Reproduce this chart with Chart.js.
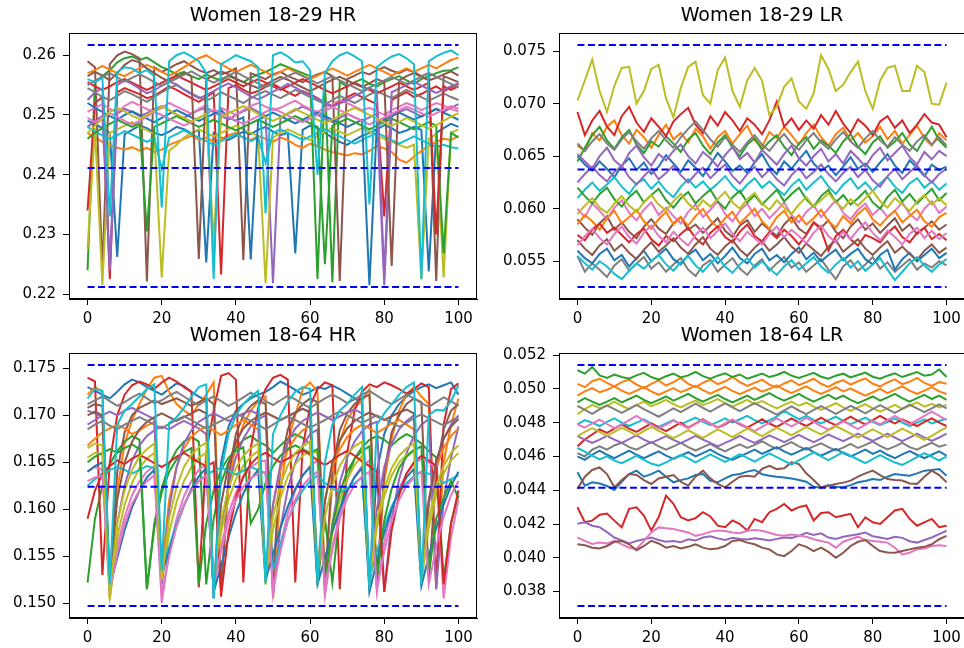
<!DOCTYPE html>
<html>
<head>
<meta charset="utf-8">
<script src="https://cdn.jsdelivr.net/npm/chart.js@4.4.0/dist/chart.umd.min.js"></script>
<style>
  body { margin: 0; background: #fff; width: 964px; height: 648px; overflow: hidden; position: relative; }
  canvas { position: absolute; }
</style>
</head>
<body>
<canvas id="hrYoungChart" width="490" height="324" style="left:0;top:0"></canvas>
<canvas id="lrYoungChart" width="480" height="324" style="left:490px;top:0"></canvas>
<canvas id="hrAllChart" width="490" height="324" style="left:0;top:324px"></canvas>
<canvas id="lrAllChart" width="480" height="324" style="left:490px;top:324px"></canvas>
<script>
// x positions of the samples
const days = [0,2,4,6,8,10,12,14,16,18,20,22,24,26,28,30,32,34,36,38,40,42,44,46,48,50,
  52,54,56,58,60,62,64,66,68,70,72,74,76,78,80,82,84,86,88,90,92,94,96,98,100];
const xTicks = [0, 20, 40, 60, 80, 100];

// Women 18-29 HR
const hrYoung = [
  [0.2490,0.2485,0.2478,0.2470,0.2262,0.2468,0.2475,0.2482,0.2478,0.2470,0.2466,0.2472,0.2480,0.2476,0.2469,0.2475,0.2253,0.2470,0.2462,0.2458,0.2465,0.2472,0.2468,0.2475,0.2480,0.2472,0.2466,0.2470,0.2268,0.2475,0.2482,0.2478,0.2470,0.2462,0.2455,0.2450,0.2458,0.2465,0.2470,0.2476,0.2483,0.2478,0.2470,0.2474,0.2480,0.2475,0.2238,0.2470,0.2478,0.2485,0.2480],
  [0.2470,0.2462,0.2455,0.2450,0.2445,0.2442,0.2446,0.2440,0.2445,0.2438,0.2442,0.2450,0.2455,0.2460,0.2465,0.2458,0.2462,0.2455,0.2460,0.2466,0.2470,0.2462,0.2458,0.2465,0.2460,0.2455,0.2462,0.2458,0.2450,0.2445,0.2452,0.2448,0.2442,0.2438,0.2435,0.2432,0.2436,0.2434,0.2440,0.2448,0.2444,0.2438,0.2425,0.2420,0.2430,0.2440,0.2448,0.2455,0.2460,0.2458,0.2465],
  [0.2240,0.2555,0.2565,0.2575,0.2588,0.2595,0.2598,0.2592,0.2596,0.2588,0.2580,0.2575,0.2568,0.2572,0.2565,0.2560,0.2568,0.2562,0.2558,0.2565,0.2560,0.2555,0.2562,0.2568,0.2572,0.2578,0.2585,0.2580,0.2575,0.2570,0.2565,0.2225,0.2560,0.2220,0.2555,0.2548,0.2555,0.2560,0.2552,0.2548,0.2555,0.2560,0.2565,0.2558,0.2552,0.2560,0.2565,0.2570,0.2574,0.2575,0.2580],
  [0.2340,0.2520,0.2530,0.2225,0.2538,0.2545,0.2540,0.2535,0.2528,0.2532,0.2540,0.2548,0.2542,0.2535,0.2528,0.2522,0.2530,0.2538,0.2233,0.2545,0.2550,0.2542,0.2536,0.2540,0.2547,0.2552,0.2545,0.2538,0.2532,0.2540,0.2535,0.2528,0.2520,0.2515,0.2522,0.2530,0.2536,0.2530,0.2524,0.2518,0.2330,0.2525,0.2532,0.2538,0.2530,0.2535,0.2542,0.2548,0.2540,0.2546,0.2552],
  [0.2480,0.2490,0.2498,0.2245,0.2502,0.2510,0.2505,0.2498,0.2503,0.2510,0.2515,0.2508,0.2500,0.2495,0.2502,0.2508,0.2512,0.2505,0.2498,0.2492,0.2500,0.2506,0.2512,0.2505,0.2498,0.2218,0.2495,0.2502,0.2508,0.2514,0.2508,0.2500,0.2494,0.2488,0.2495,0.2502,0.2496,0.2490,0.2496,0.2502,0.2215,0.2498,0.2505,0.2510,0.2504,0.2497,0.2503,0.2510,0.2505,0.2512,0.2518],
  [0.2590,0.2580,0.2239,0.2585,0.2600,0.2606,0.2602,0.2595,0.2221,0.2580,0.2572,0.2578,0.2585,0.2590,0.2582,0.2575,0.2570,0.2575,0.2568,0.2572,0.2578,0.2257,0.2570,0.2565,0.2560,0.2568,0.2572,0.2565,0.2560,0.2555,0.2562,0.2568,0.2572,0.2565,0.2222,0.2560,0.2566,0.2572,0.2568,0.2575,0.2580,0.2574,0.2570,0.2576,0.2572,0.2565,0.2570,0.2222,0.2565,0.2560,0.2555],
  [0.2505,0.2512,0.2518,0.2510,0.2504,0.2515,0.2522,0.2516,0.2510,0.2505,0.2512,0.2520,0.2514,0.2508,0.2502,0.2510,0.2516,0.2250,0.2512,0.2506,0.2500,0.2508,0.2515,0.2520,0.2514,0.2508,0.2512,0.2518,0.2524,0.2516,0.2510,0.2505,0.2512,0.2518,0.2525,0.2520,0.2514,0.2508,0.2512,0.2506,0.2500,0.2508,0.2514,0.2520,0.2515,0.2508,0.2514,0.2520,0.2516,0.2510,0.2506],
  [0.2545,0.2538,0.2530,0.2525,0.2532,0.2540,0.2535,0.2528,0.2522,0.2530,0.2538,0.2545,0.2550,0.2543,0.2536,0.2530,0.2524,0.2530,0.2538,0.2532,0.2526,0.2520,0.2528,0.2535,0.2540,0.2534,0.2528,0.2535,0.2542,0.2536,0.2530,0.2524,0.2518,0.2525,0.2532,0.2526,0.2520,0.2527,0.2534,0.2540,0.2534,0.2528,0.2535,0.2542,0.2536,0.2530,0.2524,0.2530,0.2536,0.2530,0.2525],
  [0.2275,0.2478,0.2215,0.2470,0.2476,0.2482,0.2488,0.2480,0.2474,0.2468,0.2228,0.2440,0.2450,0.2462,0.2470,0.2476,0.2470,0.2464,0.2470,0.2476,0.2482,0.2476,0.2470,0.2465,0.2218,0.2462,0.2470,0.2476,0.2470,0.2464,0.2458,0.2465,0.2472,0.2478,0.2472,0.2466,0.2472,0.2478,0.2472,0.2466,0.2460,0.2455,0.2450,0.2445,0.2450,0.2225,0.2460,0.2468,0.2228,0.2470,0.2476],
  [0.2480,0.2472,0.2466,0.2460,0.2466,0.2473,0.2467,0.2461,0.2455,0.2461,0.2410,0.2462,0.2468,0.2474,0.2468,0.2462,0.2456,0.2450,0.2456,0.2462,0.2468,0.2462,0.2456,0.2462,0.2420,0.2470,0.2476,0.2470,0.2464,0.2458,0.2464,0.2470,0.2476,0.2470,0.2464,0.2458,0.2452,0.2458,0.2464,0.2470,0.2464,0.2458,0.2452,0.2458,0.2464,0.2458,0.2452,0.2446,0.2450,0.2446,0.2444],
  [0.2520,0.2512,0.2505,0.2498,0.2492,0.2500,0.2506,0.2500,0.2494,0.2488,0.2495,0.2502,0.2508,0.2502,0.2496,0.2490,0.2496,0.2502,0.2508,0.2496,0.2490,0.2496,0.2258,0.2492,0.2498,0.2504,0.2498,0.2492,0.2486,0.2492,0.2498,0.2504,0.2498,0.2492,0.2486,0.2480,0.2486,0.2492,0.2215,0.2486,0.2492,0.2498,0.2504,0.2498,0.2492,0.2498,0.2504,0.2510,0.2504,0.2498,0.2492],
  [0.2570,0.2575,0.2582,0.2576,0.2570,0.2565,0.2572,0.2578,0.2584,0.2578,0.2572,0.2566,0.2572,0.2580,0.2588,0.2595,0.2600,0.2592,0.2585,0.2578,0.2572,0.2578,0.2584,0.2578,0.2572,0.2566,0.2572,0.2578,0.2572,0.2566,0.2560,0.2566,0.2572,0.2578,0.2572,0.2566,0.2572,0.2578,0.2584,0.2578,0.2572,0.2566,0.2572,0.2578,0.2572,0.2578,0.2584,0.2578,0.2585,0.2592,0.2596],
  [0.2460,0.2470,0.2478,0.2485,0.2492,0.2486,0.2480,0.2486,0.2305,0.2480,0.2486,0.2492,0.2498,0.2492,0.2486,0.2480,0.2486,0.2492,0.2486,0.2480,0.2474,0.2480,0.2486,0.2492,0.2486,0.2480,0.2486,0.2492,0.2498,0.2492,0.2486,0.2480,0.2250,0.2482,0.2488,0.2494,0.2488,0.2482,0.2476,0.2482,0.2488,0.2494,0.2488,0.2482,0.2476,0.2482,0.2488,0.2482,0.2268,0.2470,0.2462],
  [0.2555,0.2548,0.2542,0.2548,0.2555,0.2560,0.2554,0.2548,0.2542,0.2548,0.2554,0.2560,0.2566,0.2560,0.2554,0.2548,0.2542,0.2548,0.2554,0.2560,0.2554,0.2548,0.2554,0.2560,0.2554,0.2548,0.2542,0.2548,0.2554,0.2560,0.2554,0.2548,0.2542,0.2536,0.2542,0.2548,0.2554,0.2548,0.2542,0.2536,0.2542,0.2548,0.2554,0.2548,0.2542,0.2548,0.2554,0.2300,0.2548,0.2542,0.2548],
  [0.2525,0.2538,0.2545,0.2240,0.2550,0.2558,0.2552,0.2544,0.2536,0.2541,0.2549,0.2556,0.2551,0.2542,0.2535,0.2528,0.2533,0.2540,0.2547,0.2553,0.2546,0.2538,0.2531,0.2526,0.2532,0.2539,0.2545,0.2552,0.2546,0.2539,0.2533,0.2527,0.2520,0.2514,0.2519,0.2525,0.2532,0.2538,0.2545,0.2539,0.2230,0.2538,0.2544,0.2550,0.2556,0.2549,0.2543,0.2537,0.2542,0.2548,0.2553],
  [0.2565,0.2572,0.2566,0.2558,0.2570,0.2584,0.2592,0.2588,0.2578,0.2570,0.2562,0.2556,0.2562,0.2570,0.2565,0.2259,0.2560,0.2566,0.2573,0.2568,0.2561,0.2555,0.2550,0.2545,0.2551,0.2558,0.2564,0.2559,0.2552,0.2546,0.2540,0.2546,0.2553,0.2559,0.2564,0.2558,0.2552,0.2547,0.2553,0.2560,0.2555,0.2247,0.2558,0.2565,0.2570,0.2564,0.2558,0.2562,0.2568,0.2573,0.2566],
  [0.2495,0.2488,0.2496,0.2503,0.2497,0.2490,0.2484,0.2490,0.2497,0.2505,0.2500,0.2494,0.2488,0.2482,0.2488,0.2495,0.2502,0.2509,0.2503,0.2497,0.2491,0.2485,0.2492,0.2498,0.2505,0.2511,0.2505,0.2499,0.2493,0.2488,0.2494,0.2500,0.2507,0.2513,0.2508,0.2502,0.2496,0.2490,0.2484,0.2490,0.2496,0.2502,0.2508,0.2514,0.2509,0.2503,0.2497,0.2503,0.2509,0.2515,0.2510],
  [0.2550,0.2557,0.2564,0.2570,0.2563,0.2556,0.2562,0.2568,0.2562,0.2555,0.2549,0.2555,0.2561,0.2567,0.2573,0.2566,0.2560,0.2554,0.2560,0.2566,0.2572,0.2565,0.2559,0.2553,0.2547,0.2553,0.2559,0.2565,0.2571,0.2565,0.2559,0.2553,0.2559,0.2565,0.2558,0.2552,0.2546,0.2540,0.2546,0.2552,0.2558,0.2564,0.2558,0.2552,0.2558,0.2564,0.2570,0.2564,0.2558,0.2552,0.2546],
  [0.2470,0.2482,0.2494,0.2505,0.2512,0.2506,0.2499,0.2493,0.2500,0.2507,0.2514,0.2508,0.2501,0.2495,0.2489,0.2495,0.2502,0.2290,0.2496,0.2503,0.2509,0.2515,0.2509,0.2502,0.2496,0.2490,0.2496,0.2503,0.2510,0.2504,0.2498,0.2492,0.2486,0.2492,0.2499,0.2506,0.2512,0.2506,0.2500,0.2494,0.2488,0.2482,0.2488,0.2495,0.2489,0.2483,0.2477,0.2483,0.2490,0.2497,0.2503],
  [0.2560,0.2555,0.2562,0.2330,0.2572,0.2580,0.2578,0.2570,0.2575,0.2565,0.2345,0.2590,0.2600,0.2605,0.2598,0.2590,0.2570,0.2225,0.2585,0.2592,0.2600,0.2595,0.2590,0.2580,0.2335,0.2600,0.2605,0.2598,0.2588,0.2590,0.2575,0.2400,0.2570,0.2590,0.2600,0.2605,0.2598,0.2590,0.2350,0.2580,0.2590,0.2598,0.2602,0.2595,0.2585,0.2225,0.2590,0.2598,0.2604,0.2608,0.2600]
];
const hrYoungLimits = [0.2617, 0.2411, 0.2212];
const hrYoungTicks = [0.22, 0.23, 0.24, 0.25, 0.26];
const hrYoungTickLabels = ['0.22', '0.23', '0.24', '0.25', '0.26'];

// Women 18-29 LR
const lrYoung = [
  [0.0650,0.0642,0.0636,0.0645,0.0638,0.0630,0.0641,0.0648,0.0637,0.0644,0.0633,0.0640,0.0651,0.0643,0.0635,0.0646,0.0639,0.0631,0.0642,0.0653,0.0645,0.0636,0.0641,0.0634,0.0644,0.0652,0.0640,0.0633,0.0645,0.0638,0.0647,0.0655,0.0643,0.0636,0.0641,0.0632,0.0640,0.0649,0.0638,0.0643,0.0635,0.0644,0.0652,0.0641,0.0634,0.0646,0.0639,0.0631,0.0642,0.0637,0.0640],
  [0.0660,0.0655,0.0672,0.0665,0.0678,0.0684,0.0670,0.0662,0.0675,0.0668,0.0658,0.0670,0.0680,0.0666,0.0672,0.0663,0.0676,0.0669,0.0657,0.0668,0.0674,0.0662,0.0671,0.0679,0.0665,0.0659,0.0673,0.0667,0.0678,0.0670,0.0661,0.0672,0.0680,0.0668,0.0660,0.0671,0.0677,0.0665,0.0672,0.0663,0.0669,0.0678,0.0666,0.0674,0.0662,0.0670,0.0679,0.0667,0.0660,0.0672,0.0665],
  [0.0645,0.0658,0.0670,0.0678,0.0665,0.0657,0.0668,0.0675,0.0661,0.0653,0.0664,0.0659,0.0669,0.0662,0.0654,0.0666,0.0672,0.0660,0.0652,0.0663,0.0670,0.0658,0.0650,0.0661,0.0667,0.0656,0.0664,0.0670,0.0659,0.0651,0.0662,0.0668,0.0657,0.0665,0.0660,0.0653,0.0664,0.0671,0.0659,0.0652,0.0663,0.0669,0.0658,0.0664,0.0672,0.0661,0.0655,0.0667,0.0678,0.0665,0.0658],
  [0.0692,0.0670,0.0684,0.0693,0.0678,0.0670,0.0688,0.0697,0.0682,0.0673,0.0686,0.0678,0.0669,0.0683,0.0690,0.0696,0.0680,0.0672,0.0688,0.0679,0.0692,0.0684,0.0674,0.0686,0.0680,0.0671,0.0684,0.0702,0.0678,0.0686,0.0675,0.0684,0.0676,0.0689,0.0680,0.0693,0.0681,0.0672,0.0685,0.0679,0.0670,0.0683,0.0688,0.0677,0.0684,0.0672,0.0680,0.0690,0.0682,0.0680,0.0668],
  [0.0652,0.0645,0.0638,0.0650,0.0658,0.0646,0.0640,0.0653,0.0660,0.0649,0.0641,0.0652,0.0646,0.0655,0.0661,0.0650,0.0643,0.0654,0.0648,0.0640,0.0651,0.0659,0.0647,0.0653,0.0644,0.0656,0.0649,0.0642,0.0652,0.0660,0.0648,0.0641,0.0650,0.0657,0.0645,0.0652,0.0643,0.0655,0.0648,0.0640,0.0651,0.0658,0.0646,0.0653,0.0660,0.0649,0.0642,0.0654,0.0647,0.0655,0.0650],
  [0.0590,0.0582,0.0575,0.0586,0.0593,0.0580,0.0587,0.0578,0.0572,0.0583,0.0590,0.0581,0.0576,0.0586,0.0592,0.0580,0.0585,0.0577,0.0584,0.0591,0.0579,0.0573,0.0584,0.0589,0.0578,0.0586,0.0580,0.0574,0.0585,0.0592,0.0581,0.0576,0.0587,0.0582,0.0589,0.0578,0.0572,0.0583,0.0590,0.0580,0.0586,0.0577,0.0584,0.0591,0.0579,0.0585,0.0576,0.0582,0.0588,0.0580,0.0585],
  [0.0600,0.0592,0.0605,0.0598,0.0590,0.0601,0.0608,0.0596,0.0589,0.0599,0.0606,0.0594,0.0601,0.0593,0.0586,0.0597,0.0604,0.0592,0.0599,0.0607,0.0595,0.0588,0.0598,0.0605,0.0593,0.0600,0.0591,0.0598,0.0606,0.0594,0.0587,0.0597,0.0603,0.0592,0.0600,0.0608,0.0596,0.0590,0.0599,0.0605,0.0594,0.0601,0.0592,0.0598,0.0606,0.0595,0.0589,0.0600,0.0607,0.0596,0.0602],
  [0.0555,0.0540,0.0548,0.0542,0.0535,0.0546,0.0552,0.0541,0.0548,0.0554,0.0543,0.0549,0.0540,0.0547,0.0553,0.0542,0.0536,0.0546,0.0551,0.0540,0.0547,0.0553,0.0543,0.0537,0.0546,0.0552,0.0541,0.0548,0.0554,0.0544,0.0549,0.0540,0.0546,0.0552,0.0542,0.0533,0.0545,0.0551,0.0541,0.0547,0.0554,0.0543,0.0549,0.0540,0.0546,0.0552,0.0542,0.0548,0.0544,0.0550,0.0546],
  [0.0703,0.0722,0.0742,0.0712,0.0692,0.0717,0.0734,0.0735,0.0700,0.0712,0.0733,0.0737,0.0705,0.0687,0.0715,0.0735,0.0740,0.0708,0.0700,0.0732,0.0744,0.0712,0.0697,0.0722,0.0734,0.0722,0.0689,0.0697,0.0716,0.0724,0.0702,0.0695,0.0710,0.0746,0.0733,0.0712,0.0718,0.0730,0.0740,0.0712,0.0695,0.0722,0.0734,0.0736,0.0712,0.0712,0.0736,0.0730,0.0700,0.0699,0.0720],
  [0.0610,0.0618,0.0625,0.0617,0.0623,0.0630,0.0621,0.0614,0.0624,0.0628,0.0619,0.0626,0.0617,0.0611,0.0621,0.0628,0.0620,0.0626,0.0618,0.0624,0.0631,0.0622,0.0615,0.0623,0.0629,0.0620,0.0626,0.0619,0.0613,0.0622,0.0628,0.0618,0.0625,0.0631,0.0621,0.0614,0.0623,0.0629,0.0619,0.0625,0.0617,0.0624,0.0630,0.0621,0.0615,0.0624,0.0629,0.0620,0.0626,0.0618,0.0624],
  [0.0560,0.0553,0.0548,0.0557,0.0562,0.0551,0.0556,0.0545,0.0553,0.0560,0.0550,0.0556,0.0562,0.0552,0.0547,0.0556,0.0561,0.0551,0.0557,0.0548,0.0555,0.0563,0.0553,0.0548,0.0557,0.0562,0.0551,0.0556,0.0549,0.0557,0.0563,0.0552,0.0558,0.0550,0.0556,0.0561,0.0551,0.0557,0.0562,0.0552,0.0547,0.0556,0.0561,0.0542,0.0552,0.0558,0.0550,0.0556,0.0562,0.0553,0.0558],
  [0.0585,0.0594,0.0588,0.0580,0.0591,0.0598,0.0586,0.0592,0.0599,0.0588,0.0581,0.0590,0.0597,0.0585,0.0592,0.0584,0.0593,0.0600,0.0589,0.0582,0.0591,0.0597,0.0586,0.0593,0.0600,0.0588,0.0581,0.0592,0.0598,0.0587,0.0594,0.0585,0.0591,0.0599,0.0588,0.0582,0.0593,0.0586,0.0595,0.0601,0.0590,0.0584,0.0592,0.0598,0.0587,0.0593,0.0599,0.0588,0.0583,0.0592,0.0596],
  [0.0620,0.0612,0.0605,0.0614,0.0620,0.0609,0.0602,0.0611,0.0617,0.0606,0.0613,0.0619,0.0608,0.0601,0.0610,0.0616,0.0605,0.0612,0.0618,0.0607,0.0600,0.0611,0.0617,0.0606,0.0613,0.0604,0.0611,0.0618,0.0607,0.0614,0.0620,0.0609,0.0602,0.0612,0.0618,0.0606,0.0613,0.0604,0.0610,0.0617,0.0606,0.0600,0.0611,0.0618,0.0607,0.0614,0.0605,0.0612,0.0619,0.0608,0.0615],
  [0.0575,0.0570,0.0580,0.0586,0.0577,0.0582,0.0575,0.0568,0.0576,0.0581,0.0571,0.0565,0.0574,0.0569,0.0576,0.0582,0.0572,0.0566,0.0577,0.0583,0.0573,0.0568,0.0578,0.0585,0.0574,0.0569,0.0578,0.0572,0.0580,0.0574,0.0566,0.0575,0.0587,0.0580,0.0560,0.0574,0.0580,0.0571,0.0565,0.0575,0.0572,0.0568,0.0577,0.0583,0.0573,0.0568,0.0577,0.0582,0.0571,0.0576,0.0570],
  [0.0625,0.0633,0.0640,0.0632,0.0626,0.0635,0.0641,0.0630,0.0623,0.0631,0.0638,0.0628,0.0634,0.0641,0.0632,0.0625,0.0633,0.0639,0.0629,0.0636,0.0642,0.0631,0.0624,0.0633,0.0640,0.0630,0.0637,0.0628,0.0622,0.0632,0.0639,0.0629,0.0635,0.0642,0.0633,0.0626,0.0634,0.0640,0.0630,0.0637,0.0627,0.0621,0.0631,0.0638,0.0628,0.0635,0.0641,0.0632,0.0625,0.0633,0.0638],
  [0.0570,0.0562,0.0556,0.0565,0.0571,0.0560,0.0566,0.0558,0.0552,0.0561,0.0568,0.0559,0.0565,0.0572,0.0563,0.0557,0.0566,0.0573,0.0562,0.0556,0.0564,0.0570,0.0561,0.0555,0.0563,0.0569,0.0560,0.0566,0.0573,0.0564,0.0558,0.0567,0.0561,0.0555,0.0564,0.0570,0.0559,0.0565,0.0571,0.0562,0.0556,0.0563,0.0569,0.0558,0.0564,0.0557,0.0551,0.0560,0.0566,0.0558,0.0563],
  [0.0565,0.0574,0.0581,0.0572,0.0566,0.0576,0.0583,0.0573,0.0567,0.0577,0.0584,0.0574,0.0568,0.0578,0.0571,0.0565,0.0575,0.0582,0.0572,0.0579,0.0586,0.0576,0.0569,0.0578,0.0572,0.0566,0.0576,0.0583,0.0573,0.0580,0.0574,0.0567,0.0577,0.0584,0.0574,0.0568,0.0578,0.0571,0.0580,0.0587,0.0577,0.0570,0.0579,0.0573,0.0566,0.0576,0.0582,0.0572,0.0579,0.0571,0.0577],
  [0.0662,0.0655,0.0664,0.0671,0.0662,0.0656,0.0666,0.0673,0.0664,0.0657,0.0667,0.0674,0.0665,0.0658,0.0668,0.0676,0.0683,0.0675,0.0666,0.0659,0.0668,0.0661,0.0654,0.0663,0.0670,0.0661,0.0655,0.0664,0.0671,0.0662,0.0656,0.0665,0.0672,0.0663,0.0657,0.0666,0.0673,0.0664,0.0658,0.0667,0.0674,0.0665,0.0659,0.0668,0.0661,0.0655,0.0664,0.0670,0.0661,0.0668,0.0660],
  [0.0595,0.0603,0.0610,0.0601,0.0596,0.0605,0.0612,0.0603,0.0597,0.0606,0.0613,0.0604,0.0598,0.0607,0.0614,0.0605,0.0599,0.0608,0.0602,0.0609,0.0616,0.0606,0.0600,0.0609,0.0615,0.0605,0.0599,0.0608,0.0601,0.0595,0.0604,0.0611,0.0602,0.0608,0.0615,0.0606,0.0600,0.0609,0.0603,0.0610,0.0617,0.0607,0.0601,0.0610,0.0604,0.0598,0.0607,0.0613,0.0604,0.0610,0.0603],
  [0.0555,0.0548,0.0542,0.0550,0.0545,0.0538,0.0533,0.0541,0.0548,0.0543,0.0550,0.0556,0.0547,0.0541,0.0549,0.0555,0.0546,0.0540,0.0548,0.0554,0.0545,0.0539,0.0547,0.0553,0.0544,0.0550,0.0543,0.0537,0.0545,0.0551,0.0542,0.0548,0.0554,0.0545,0.0539,0.0547,0.0553,0.0544,0.0550,0.0541,0.0547,0.0553,0.0542,0.0532,0.0540,0.0548,0.0554,0.0546,0.0540,0.0547,0.0552]
];
const lrYoungLimits = [0.07557, 0.06373, 0.05256];
const lrYoungTicks = [0.055, 0.060, 0.065, 0.070, 0.075];
const lrYoungTickLabels = ['0.055', '0.060', '0.065', '0.070', '0.075'];

// Women 18-64 HR
const hrAll = [
  [0.1730,0.1726,0.1722,0.1718,0.1725,0.1733,0.1738,0.1735,0.1730,0.1726,0.1722,0.1728,0.1734,0.1731,0.1725,0.1720,0.1716,0.1505,0.1650,0.1688,0.1705,0.1712,0.1718,0.1722,0.1725,0.1730,0.1736,0.1732,0.1727,0.1722,0.1725,0.1730,0.1728,0.1732,0.1728,0.1723,0.1718,0.1713,0.1515,0.1640,0.1680,0.1700,0.1712,0.1720,0.1726,0.1730,0.1733,0.1729,0.1732,0.1735,0.1722],
  [0.1722,0.1730,0.1725,0.1505,0.1620,0.1670,0.1695,0.1712,0.1728,0.1740,0.1742,0.1725,0.1712,0.1705,0.1700,0.1712,0.1722,0.1735,0.1515,0.1625,0.1668,0.1690,0.1705,0.1715,0.1720,0.1505,0.1620,0.1672,0.1700,0.1728,0.1735,0.1725,0.1520,0.1630,0.1672,0.1695,0.1708,0.1716,0.1728,0.1518,0.1630,0.1675,0.1705,0.1722,0.1730,0.1720,0.1712,0.1515,0.1650,0.1690,0.1718],
  [0.1522,0.1590,0.1625,0.1648,0.1662,0.1672,0.1678,0.1674,0.1515,0.1585,0.1622,0.1648,0.1663,0.1672,0.1677,0.1672,0.1520,0.1590,0.1628,0.1650,0.1665,0.1674,0.1678,0.1672,0.1668,0.1660,0.1668,0.1675,0.1680,0.1676,0.1670,0.1520,0.1590,0.1522,0.1598,0.1632,0.1654,0.1666,0.1674,0.1678,0.1674,0.1668,0.1675,0.1680,0.1676,0.1670,0.1662,0.1655,0.1525,0.1585,0.1615],
  [0.1740,0.1736,0.1530,0.1650,0.1700,0.1722,0.1732,0.1736,0.1733,0.1728,0.1735,0.1740,0.1736,0.1730,0.1725,0.1517,0.1660,0.1705,0.1742,0.1745,0.1738,0.1522,0.1665,0.1708,0.1728,0.1740,0.1743,0.1738,0.1522,0.1665,0.1710,0.1728,0.1735,0.1732,0.1515,0.1660,0.1705,0.1725,0.1733,0.1730,0.1735,0.1732,0.1728,0.1723,0.1728,0.1734,0.1730,0.1520,0.1690,0.1728,0.1734],
  [0.1705,0.1702,0.1698,0.1512,0.1585,0.1625,0.1652,0.1668,0.1678,0.1684,0.1688,0.1685,0.1690,0.1694,0.1690,0.1686,0.1680,0.1510,0.1580,0.1625,0.1655,0.1675,0.1688,0.1696,0.1700,0.1508,0.1580,0.1622,0.1650,0.1668,0.1680,0.1685,0.1510,0.1585,0.1628,0.1655,0.1672,0.1683,0.1690,0.1693,0.1512,0.1590,0.1632,0.1660,0.1678,0.1690,0.1696,0.1515,0.1610,0.1655,0.1688],
  [0.1708,0.1712,0.1710,0.1520,0.1640,0.1682,0.1700,0.1708,0.1712,0.1716,0.1712,0.1715,0.1718,0.1714,0.1710,0.1714,0.1718,0.1712,0.1512,0.1635,0.1680,0.1700,0.1710,0.1716,0.1712,0.1525,0.1645,0.1685,0.1702,0.1712,0.1718,0.1714,0.1522,0.1642,0.1684,0.1702,0.1712,0.1718,0.1722,0.1522,0.1640,0.1682,0.1700,0.1712,0.1718,0.1714,0.1525,0.1640,0.1685,0.1705,0.1712],
  [0.1640,0.1645,0.1642,0.1508,0.1560,0.1592,0.1615,0.1630,0.1640,0.1646,0.1500,0.1555,0.1590,0.1614,0.1630,0.1642,0.1648,0.1515,0.1560,0.1595,0.1618,0.1634,0.1645,0.1650,0.1652,0.1510,0.1562,0.1596,0.1620,0.1636,0.1646,0.1652,0.1508,0.1560,0.1595,0.1618,0.1635,0.1646,0.1652,0.1512,0.1565,0.1600,0.1622,0.1638,0.1648,0.1654,0.1650,0.1644,0.1505,0.1570,0.1610],
  [0.1712,0.1716,0.1720,0.1715,0.1710,0.1714,0.1719,0.1723,0.1718,0.1713,0.1716,0.1721,0.1725,0.1720,0.1715,0.1711,0.1716,0.1720,0.1715,0.1710,0.1714,0.1719,0.1724,0.1720,0.1715,0.1711,0.1716,0.1721,0.1717,0.1712,0.1708,0.1713,0.1718,0.1722,0.1718,0.1713,0.1717,0.1722,0.1726,0.1721,0.1716,0.1712,0.1717,0.1722,0.1718,0.1713,0.1709,0.1714,0.1719,0.1715,0.1710],
  [0.1655,0.1660,0.1658,0.1503,0.1570,0.1605,0.1628,0.1644,0.1654,0.1660,0.1520,0.1575,0.1608,0.1630,0.1645,0.1655,0.1660,0.1518,0.1575,0.1610,0.1632,0.1646,0.1656,0.1662,0.1520,0.1578,0.1612,0.1635,0.1648,0.1657,0.1662,0.1660,0.1518,0.1575,0.1610,0.1632,0.1647,0.1657,0.1525,0.1580,0.1614,0.1636,0.1650,0.1658,0.1663,0.1522,0.1580,0.1615,0.1638,0.1652,0.1660],
  [0.1625,0.1632,0.1638,0.1642,0.1645,0.1642,0.1638,0.1642,0.1646,0.1644,0.1540,0.1560,0.1585,0.1605,0.1620,0.1630,0.1637,0.1641,0.1644,0.1641,0.1637,0.1641,0.1645,0.1642,0.1638,0.1535,0.1562,0.1588,0.1607,0.1620,0.1630,0.1636,0.1628,0.1622,0.1618,0.1622,0.1628,0.1634,0.1525,0.1555,0.1582,0.1603,0.1618,0.1628,0.1635,0.1640,0.1638,0.1633,0.1628,0.1632,0.1636],
  [0.1640,0.1646,0.1650,0.1518,0.1548,0.1578,0.1602,0.1620,0.1634,0.1642,0.1530,0.1556,0.1582,0.1604,0.1622,0.1635,0.1644,0.1512,0.1540,0.1570,0.1596,0.1617,0.1632,0.1642,0.1525,0.1552,0.1580,0.1603,0.1622,0.1636,0.1645,0.1520,0.1548,0.1576,0.1600,0.1620,0.1634,0.1644,0.1512,0.1545,0.1575,0.1600,0.1620,0.1634,0.1643,0.1518,0.1550,0.1580,0.1605,0.1625,0.1640],
  [0.1668,0.1675,0.1682,0.1686,0.1690,0.1686,0.1680,0.1684,0.1689,0.1693,0.1535,0.1610,0.1645,0.1665,0.1677,0.1684,0.1688,0.1684,0.1679,0.1684,0.1690,0.1695,0.1690,0.1685,0.1530,0.1605,0.1642,0.1663,0.1676,0.1684,0.1689,0.1540,0.1610,0.1645,0.1664,0.1677,0.1685,0.1690,0.1686,0.1681,0.1686,0.1691,0.1695,0.1690,0.1685,0.1532,0.1608,0.1644,0.1665,0.1678,0.1686],
  [0.1650,0.1656,0.1660,0.1664,0.1660,0.1665,0.1669,0.1664,0.1515,0.1580,0.1618,0.1640,0.1653,0.1661,0.1665,0.1520,0.1585,0.1620,0.1642,0.1655,0.1662,0.1666,0.1585,0.1600,0.1628,0.1646,0.1657,0.1664,0.1668,0.1664,0.1660,0.1664,0.1520,0.1582,0.1618,0.1640,0.1654,0.1662,0.1667,0.1525,0.1588,0.1622,0.1644,0.1656,0.1663,0.1667,0.1530,0.1590,0.1612,0.1630,0.1612],
  [0.1590,0.1620,0.1638,0.1646,0.1652,0.1648,0.1654,0.1658,0.1654,0.1649,0.1645,0.1650,0.1656,0.1660,0.1655,0.1650,0.1646,0.1650,0.1507,0.1575,0.1612,0.1635,0.1648,0.1656,0.1660,0.1655,0.1650,0.1654,0.1659,0.1663,0.1658,0.1652,0.1647,0.1652,0.1658,0.1662,0.1657,0.1651,0.1646,0.1640,0.1512,0.1578,0.1615,0.1638,0.1650,0.1657,0.1652,0.1646,0.1520,0.1585,0.1620],
  [0.1690,0.1695,0.1700,0.1704,0.1700,0.1705,0.1708,0.1704,0.1700,0.1696,0.1520,0.1600,0.1645,0.1670,0.1684,0.1693,0.1698,0.1702,0.1698,0.1694,0.1698,0.1702,0.1705,0.1701,0.1525,0.1605,0.1648,0.1672,0.1686,0.1694,0.1699,0.1703,0.1699,0.1695,0.1699,0.1703,0.1706,0.1702,0.1518,0.1600,0.1645,0.1670,0.1685,0.1694,0.1700,0.1530,0.1605,0.1650,0.1675,0.1690,0.1700],
  [0.1700,0.1704,0.1700,0.1525,0.1610,0.1650,0.1672,0.1685,0.1693,0.1698,0.1702,0.1698,0.1694,0.1698,0.1702,0.1706,0.1702,0.1512,0.1605,0.1648,0.1672,0.1686,0.1694,0.1699,0.1703,0.1699,0.1695,0.1699,0.1703,0.1707,0.1703,0.1522,0.1608,0.1650,0.1673,0.1686,0.1694,0.1699,0.1703,0.1699,0.1695,0.1699,0.1703,0.1706,0.1702,0.1525,0.1610,0.1652,0.1675,0.1688,0.1696],
  [0.1630,0.1634,0.1636,0.1515,0.1552,0.1585,0.1606,0.1620,0.1630,0.1636,0.1510,0.1550,0.1582,0.1605,0.1620,0.1630,0.1636,0.1520,0.1555,0.1588,0.1610,0.1624,0.1633,0.1638,0.1640,0.1515,0.1555,0.1588,0.1610,0.1625,0.1634,0.1640,0.1518,0.1556,0.1590,0.1612,0.1626,0.1635,0.1640,0.1515,0.1555,0.1588,0.1610,0.1625,0.1634,0.1640,0.1520,0.1560,0.1592,0.1615,0.1630],
  [0.1685,0.1690,0.1694,0.1689,0.1685,0.1690,0.1694,0.1698,0.1694,0.1690,0.1686,0.1691,0.1695,0.1699,0.1695,0.1690,0.1686,0.1690,0.1694,0.1698,0.1702,0.1698,0.1694,0.1690,0.1685,0.1690,0.1695,0.1699,0.1695,0.1691,0.1687,0.1691,0.1695,0.1700,0.1704,0.1700,0.1696,0.1692,0.1696,0.1700,0.1696,0.1692,0.1688,0.1692,0.1697,0.1701,0.1697,0.1693,0.1689,0.1694,0.1698],
  [0.1665,0.1670,0.1668,0.1512,0.1585,0.1620,0.1642,0.1656,0.1664,0.1670,0.1525,0.1590,0.1624,0.1645,0.1658,0.1666,0.1671,0.1522,0.1588,0.1622,0.1644,0.1657,0.1665,0.1670,0.1528,0.1592,0.1626,0.1647,0.1660,0.1667,0.1672,0.1530,0.1592,0.1625,0.1646,0.1659,0.1667,0.1672,0.1520,0.1588,0.1622,0.1644,0.1657,0.1665,0.1670,0.1525,0.1590,0.1625,0.1646,0.1660,0.1668],
  [0.1718,0.1728,0.1726,0.1520,0.1690,0.1705,0.1712,0.1720,0.1728,0.1733,0.1535,0.1692,0.1698,0.1708,0.1720,0.1730,0.1733,0.1505,0.1640,0.1680,0.1700,0.1712,0.1720,0.1726,0.1522,0.1680,0.1700,0.1715,0.1725,0.1730,0.1728,0.1520,0.1650,0.1690,0.1705,0.1712,0.1722,0.1730,0.1515,0.1690,0.1702,0.1712,0.1722,0.1730,0.1735,0.1520,0.1700,0.1706,0.1705,0.1715,0.1732]
];
const hrAllLimits = [0.17535, 0.16241, 0.14971];
const hrAllTicks = [0.150, 0.155, 0.160, 0.165, 0.170, 0.175];
const hrAllTickLabels = ['0.150', '0.155', '0.160', '0.165', '0.170', '0.175'];

// Women 18-64 LR
const lrAll = [
  [0.04506,0.04427,0.04447,0.04440,0.04425,0.04402,0.04450,0.04496,0.04516,0.04480,0.04495,0.04516,0.04480,0.04447,0.04460,0.04470,0.04490,0.04496,0.04455,0.04447,0.04470,0.04490,0.04496,0.04510,0.04520,0.04495,0.04486,0.04480,0.04476,0.04470,0.04460,0.04450,0.04420,0.04415,0.04430,0.04420,0.04417,0.04430,0.04447,0.04455,0.04466,0.04460,0.04480,0.04496,0.04490,0.04486,0.04500,0.04516,0.04520,0.04526,0.04486],
  [0.05030,0.05010,0.05045,0.05060,0.05035,0.05015,0.05040,0.05055,0.05025,0.05005,0.05030,0.05050,0.05020,0.05040,0.05065,0.05030,0.05010,0.05035,0.05055,0.05028,0.05045,0.05070,0.05040,0.05018,0.05035,0.05055,0.05025,0.05008,0.05032,0.05050,0.05022,0.05040,0.05060,0.05030,0.05012,0.05036,0.05052,0.05025,0.05045,0.05062,0.05030,0.05015,0.05038,0.05056,0.05028,0.05042,0.05065,0.05035,0.05018,0.05040,0.05030],
  [0.05110,0.05090,0.05130,0.05080,0.05065,0.05085,0.05070,0.05060,0.05080,0.05095,0.05070,0.05055,0.05075,0.05090,0.05068,0.05080,0.05100,0.05075,0.05060,0.05078,0.05092,0.05070,0.05085,0.05060,0.05075,0.05090,0.05070,0.05082,0.05100,0.05078,0.05065,0.05080,0.05095,0.05072,0.05060,0.05078,0.05090,0.05068,0.05082,0.05096,0.05072,0.05060,0.05078,0.05092,0.05070,0.05085,0.05100,0.05078,0.05085,0.05115,0.05070],
  [0.04299,0.04211,0.04220,0.04255,0.04262,0.04220,0.04181,0.04290,0.04299,0.04250,0.04162,0.04240,0.04368,0.04320,0.04240,0.04221,0.04235,0.04270,0.04245,0.04190,0.04181,0.04221,0.04200,0.04162,0.04230,0.04211,0.04270,0.04290,0.04319,0.04280,0.04300,0.04310,0.04221,0.04265,0.04270,0.04240,0.04250,0.04260,0.04181,0.04240,0.04210,0.04200,0.04240,0.04280,0.04290,0.04230,0.04190,0.04210,0.04230,0.04181,0.04190],
  [0.04201,0.04210,0.04190,0.04181,0.04152,0.04120,0.04103,0.04085,0.04100,0.04110,0.04120,0.04105,0.04095,0.04100,0.04092,0.04110,0.04102,0.04120,0.04128,0.04115,0.04105,0.04118,0.04112,0.04108,0.04115,0.04110,0.04102,0.04112,0.04120,0.04118,0.04130,0.04148,0.04135,0.04145,0.04120,0.04112,0.04125,0.04132,0.04140,0.04150,0.04128,0.04120,0.04112,0.04125,0.04118,0.04098,0.04090,0.04105,0.04120,0.04140,0.04160],
  [0.04408,0.04480,0.04520,0.04535,0.04496,0.04417,0.04460,0.04496,0.04490,0.04460,0.04437,0.04470,0.04480,0.04490,0.04450,0.04427,0.04480,0.04516,0.04470,0.04437,0.04417,0.04450,0.04480,0.04485,0.04480,0.04526,0.04545,0.04525,0.04530,0.04565,0.04555,0.04500,0.04460,0.04417,0.04425,0.04437,0.04445,0.04457,0.04480,0.04500,0.04516,0.04490,0.04466,0.04460,0.04457,0.04440,0.04437,0.04480,0.04516,0.04490,0.04447],
  [0.04120,0.04100,0.04082,0.04090,0.04085,0.04100,0.04080,0.04060,0.04052,0.04100,0.04150,0.04180,0.04175,0.04170,0.04160,0.04150,0.04130,0.04140,0.04155,0.04162,0.04158,0.04150,0.04145,0.04160,0.04165,0.04160,0.04148,0.04135,0.04130,0.04138,0.04132,0.04125,0.04110,0.04100,0.04090,0.04060,0.04095,0.04110,0.04125,0.04105,0.04100,0.04095,0.04090,0.04060,0.04020,0.04030,0.04050,0.04055,0.04070,0.04075,0.04070],
  [0.04620,0.04600,0.04640,0.04660,0.04640,0.04665,0.04680,0.04655,0.04640,0.04662,0.04685,0.04660,0.04640,0.04660,0.04680,0.04655,0.04635,0.04655,0.04675,0.04650,0.04630,0.04652,0.04672,0.04650,0.04668,0.04690,0.04665,0.04645,0.04665,0.04685,0.04660,0.04640,0.04660,0.04678,0.04655,0.04635,0.04652,0.04675,0.04650,0.04668,0.04688,0.04662,0.04642,0.04660,0.04680,0.04655,0.04640,0.04662,0.04680,0.04658,0.04670],
  [0.04850,0.04880,0.04905,0.04885,0.04900,0.04925,0.04900,0.04880,0.04905,0.04925,0.04898,0.04915,0.04935,0.04910,0.04890,0.04912,0.04930,0.04905,0.04920,0.04940,0.04915,0.04895,0.04915,0.04935,0.04910,0.04928,0.04905,0.04885,0.04905,0.04925,0.04900,0.04918,0.04895,0.04875,0.04895,0.04915,0.04890,0.04870,0.04890,0.04910,0.04885,0.04865,0.04885,0.04905,0.04882,0.04900,0.04920,0.04895,0.04912,0.04890,0.04905],
  [0.04790,0.04815,0.04800,0.04780,0.04805,0.04825,0.04800,0.04780,0.04800,0.04820,0.04795,0.04775,0.04795,0.04815,0.04790,0.04810,0.04830,0.04805,0.04785,0.04805,0.04825,0.04800,0.04820,0.04840,0.04815,0.04795,0.04815,0.04835,0.04870,0.04845,0.04820,0.04840,0.04815,0.04795,0.04815,0.04835,0.04810,0.04790,0.04810,0.04830,0.04805,0.04785,0.04805,0.04825,0.04800,0.04780,0.04800,0.04820,0.04795,0.04810,0.04825],
  [0.04600,0.04580,0.04610,0.04635,0.04610,0.04590,0.04612,0.04635,0.04610,0.04590,0.04610,0.04630,0.04605,0.04585,0.04605,0.04625,0.04600,0.04620,0.04640,0.04615,0.04595,0.04580,0.04600,0.04620,0.04640,0.04615,0.04635,0.04655,0.04630,0.04610,0.04630,0.04650,0.04625,0.04605,0.04625,0.04645,0.04620,0.04600,0.04620,0.04640,0.04615,0.04635,0.04610,0.04590,0.04612,0.04632,0.04610,0.04590,0.04610,0.04630,0.04605],
  [0.04960,0.04985,0.05005,0.04980,0.04995,0.05015,0.04990,0.04970,0.04990,0.05010,0.04985,0.04965,0.04985,0.05005,0.04980,0.04998,0.05018,0.04992,0.04972,0.04992,0.05012,0.04988,0.04968,0.04988,0.05008,0.04983,0.05000,0.05020,0.04995,0.04975,0.04995,0.05015,0.04990,0.04970,0.04990,0.05010,0.04985,0.05002,0.04980,0.04960,0.04980,0.05000,0.04975,0.04995,0.05015,0.04990,0.04970,0.04990,0.05010,0.04985,0.04970],
  [0.04920,0.04945,0.04925,0.04905,0.04925,0.04945,0.04920,0.04940,0.04960,0.04935,0.04915,0.04935,0.04955,0.04930,0.04950,0.04970,0.04945,0.04925,0.04945,0.04965,0.04940,0.04920,0.04940,0.04960,0.04935,0.04955,0.04975,0.04950,0.04930,0.04950,0.04970,0.04945,0.04925,0.04945,0.04965,0.04940,0.04960,0.04935,0.04915,0.04935,0.04955,0.04930,0.04950,0.04970,0.04945,0.04925,0.04945,0.04965,0.04940,0.04960,0.04935],
  [0.04660,0.04700,0.04730,0.04760,0.04740,0.04765,0.04790,0.04765,0.04745,0.04770,0.04795,0.04770,0.04750,0.04775,0.04800,0.04770,0.04795,0.04820,0.04795,0.04770,0.04790,0.04815,0.04790,0.04770,0.04795,0.04820,0.04795,0.04775,0.04800,0.04825,0.04800,0.04780,0.04805,0.04830,0.04805,0.04785,0.04810,0.04835,0.04810,0.04790,0.04815,0.04840,0.04815,0.04795,0.04820,0.04800,0.04780,0.04805,0.04825,0.04800,0.04780],
  [0.04720,0.04700,0.04680,0.04700,0.04722,0.04700,0.04680,0.04702,0.04725,0.04700,0.04680,0.04700,0.04720,0.04698,0.04678,0.04700,0.04722,0.04700,0.04680,0.04660,0.04680,0.04700,0.04722,0.04700,0.04680,0.04702,0.04725,0.04705,0.04685,0.04705,0.04728,0.04705,0.04685,0.04705,0.04730,0.04710,0.04690,0.04712,0.04735,0.04712,0.04692,0.04712,0.04735,0.04712,0.04690,0.04712,0.04735,0.04712,0.04692,0.04712,0.04735],
  [0.04080,0.04075,0.04060,0.04055,0.04070,0.04095,0.04100,0.04080,0.04045,0.04070,0.04100,0.04085,0.04060,0.04070,0.04055,0.04065,0.04080,0.04060,0.04050,0.04055,0.04070,0.04100,0.04105,0.04090,0.04080,0.04060,0.04050,0.04020,0.04010,0.04040,0.04080,0.04065,0.04040,0.04060,0.04035,0.04000,0.04030,0.04070,0.04095,0.04105,0.04070,0.04040,0.04032,0.04030,0.04040,0.04050,0.04060,0.04065,0.04080,0.04110,0.04130],
  [0.04790,0.04770,0.04795,0.04818,0.04792,0.04768,0.04790,0.04815,0.04840,0.04812,0.04788,0.04765,0.04788,0.04812,0.04790,0.04768,0.04792,0.04818,0.04795,0.04772,0.04796,0.04820,0.04795,0.04772,0.04750,0.04775,0.04800,0.04825,0.04800,0.04778,0.04802,0.04828,0.04805,0.04780,0.04758,0.04782,0.04808,0.04785,0.04762,0.04788,0.04812,0.04790,0.04815,0.04840,0.04815,0.04790,0.04815,0.04840,0.04865,0.04840,0.04815],
  [0.04900,0.04875,0.04852,0.04878,0.04902,0.04880,0.04858,0.04882,0.04905,0.04880,0.04858,0.04835,0.04860,0.04885,0.04862,0.04888,0.04912,0.04888,0.04865,0.04890,0.04914,0.04890,0.04868,0.04892,0.04916,0.04892,0.04870,0.04848,0.04872,0.04896,0.04872,0.04850,0.04875,0.04898,0.04875,0.04852,0.04876,0.04900,0.04878,0.04855,0.04880,0.04904,0.04880,0.04858,0.04882,0.04906,0.04884,0.04862,0.04885,0.04908,0.04885],
  [0.04720,0.04745,0.04768,0.04745,0.04722,0.04745,0.04770,0.04748,0.04725,0.04750,0.04775,0.04752,0.04730,0.04708,0.04730,0.04755,0.04732,0.04710,0.04735,0.04760,0.04738,0.04715,0.04740,0.04765,0.04742,0.04720,0.04745,0.04770,0.04748,0.04725,0.04750,0.04775,0.04752,0.04730,0.04755,0.04780,0.04758,0.04735,0.04712,0.04736,0.04760,0.04738,0.04715,0.04740,0.04765,0.04742,0.04720,0.04698,0.04722,0.04748,0.04772],
  [0.04650,0.04628,0.04605,0.04582,0.04600,0.04575,0.04560,0.04582,0.04604,0.04580,0.04558,0.04545,0.04565,0.04588,0.04610,0.04588,0.04565,0.04588,0.04612,0.04590,0.04568,0.04590,0.04614,0.04592,0.04570,0.04594,0.04618,0.04596,0.04574,0.04552,0.04576,0.04600,0.04624,0.04600,0.04578,0.04602,0.04626,0.04604,0.04582,0.04560,0.04584,0.04608,0.04586,0.04564,0.04550,0.04572,0.04596,0.04620,0.04598,0.04576,0.04600]
];
const lrAllLimits = [0.05141, 0.04415, 0.03715];
const lrAllTicks = [0.038, 0.040, 0.042, 0.044, 0.046, 0.048, 0.050, 0.052];
const lrAllTickLabels = ['0.038', '0.040', '0.042', '0.044', '0.046', '0.048', '0.050', '0.052'];

const palette = ['#1f77b4', '#ff7f0e', '#2ca02c', '#d62728', '#9467bd',
                 '#8c564b', '#e377c2', '#7f7f7f', '#bcbd22', '#17becf'];

Chart.defaults.font.family = "'DejaVu Sans', sans-serif";

// axes frame on all four sides, like matplotlib spines
const frame = {
    id: 'frame',
    afterDraw(chart) {
        const { ctx, chartArea: a } = chart;
        ctx.save();
        ctx.strokeStyle = '#000';
        ctx.lineWidth = 1;
        ctx.strokeRect(Math.round(a.left) + 0.5, Math.round(a.top) + 0.5,
                       Math.round(a.width) - 1, Math.round(a.height) - 1);
        ctx.restore();
    }
};

function drawPanel(id, title, series, limits, yTicks, yLabels, box) {
    // later series sit on top, as in the original plot
    const datasets = series.map((s, i) => ({
        data: s.map((v, j) => ({ x: days[j], y: v })),
        borderColor: palette[i % palette.length],
        borderWidth: 2,
        pointRadius: 0,
        order: -i
    }));
    limits.forEach(v => datasets.push({
        data: [{ x: days[0], y: v }, { x: days[days.length - 1], y: v }],
        borderColor: '#0000ff',
        borderWidth: 2,
        borderDash: [7, 3.5],
        pointRadius: 0,
        order: -1000
    }));

    // matplotlib style autoscale: data range plus 5% each side
    const all = series.flat().concat(limits);
    const lo = Math.min(...all), hi = Math.max(...all);
    const pad = (hi - lo) * 0.05;

    new Chart(document.getElementById(id), {
        type: 'line',
        data: { datasets: datasets },
        plugins: [frame],
        options: {
            responsive: false,
            animation: false,
            devicePixelRatio: 1,
            events: [],
            layout: { padding: { left: 0, right: box.right, top: 0, bottom: 0 } },
            plugins: {
                legend: { display: false },
                tooltip: { enabled: false },
                title: {
                    display: true,
                    text: title,
                    color: '#000',
                    fullSize: false,
                    font: { size: 19, weight: 'normal' },
                    padding: { top: box.titleTop, bottom: box.titleBottom }
                }
            },
            scales: {
                x: {
                    type: 'linear',
                    min: days[0] - 5,
                    max: days[days.length - 1] + 5,
                    afterBuildTicks: s => { s.ticks = xTicks.map(v => ({ value: v })); },
                    afterFit: s => { s.height = box.xAxis; },
                    ticks: { color: '#000', font: { size: 15 }, padding: 5, maxRotation: 0, autoSkip: false,
                             callback: v => String(v) },
                    grid: { drawOnChartArea: false, tickLength: 6, color: '#000' },
                    border: { color: '#000' }
                },
                y: {
                    type: 'linear',
                    min: lo - pad,
                    max: hi + pad,
                    afterBuildTicks: s => { s.ticks = yTicks.map(v => ({ value: v })); },
                    afterFit: s => { s.width = 69; },
                    ticks: { color: '#000', font: { size: 15 }, padding: 7, autoSkip: false,
                             callback: (v, i) => yLabels[i] },
                    grid: { drawOnChartArea: false, tickLength: 6, color: '#000' },
                    border: { color: '#000' }
                }
            }
        }
    });
}

drawPanel('hrYoungChart', 'Women 18-29 HR', hrYoung, hrYoungLimits, hrYoungTicks, hrYoungTickLabels,
          { right: 13, titleTop: 4.5, titleBottom: 5.7, xAxis: 25 });
drawPanel('lrYoungChart', 'Women 18-29 LR', lrYoung, lrYoungLimits, lrYoungTicks, lrYoungTickLabels,
          { right: 5, titleTop: 4.5, titleBottom: 5.7, xAxis: 25 });
drawPanel('hrAllChart', 'Women 18-64 HR', hrAll, hrAllLimits, hrAllTicks, hrAllTickLabels,
          { right: 13, titleTop: 1, titleBottom: 5.2, xAxis: 30 });
drawPanel('lrAllChart', 'Women 18-64 LR', lrAll, lrAllLimits, lrAllTicks, lrAllTickLabels,
          { right: 5, titleTop: 1, titleBottom: 5.2, xAxis: 30 });
</script>
</body>
</html>
